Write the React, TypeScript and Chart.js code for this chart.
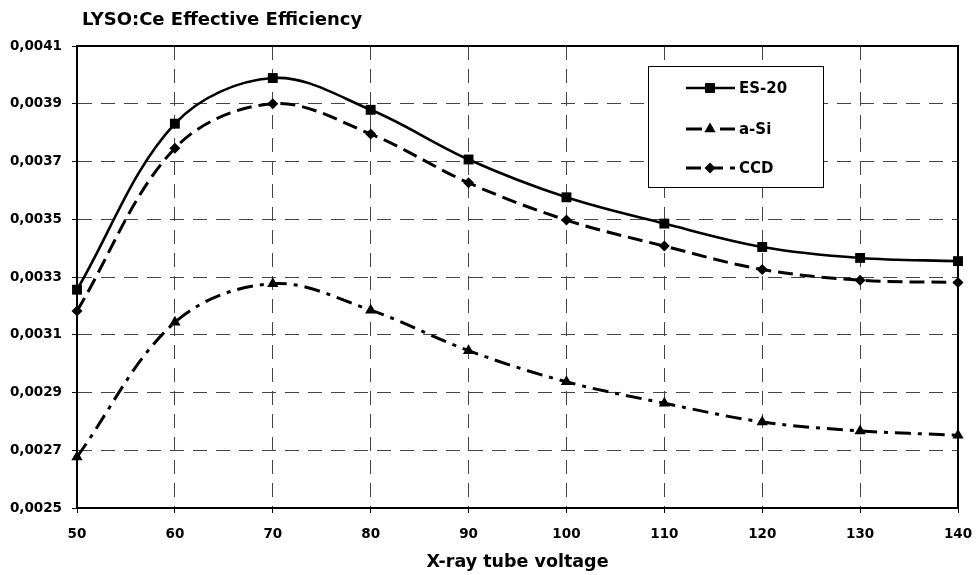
import React, { useEffect, useRef } from 'react';
import { Chart, registerables } from 'chart.js';

Chart.register(...registerables);

const voltages = ['50', '60', '70', '80', '90', '100', '110', '120', '130', '140'];
const es20 = [0.003256, 0.003831, 0.003989, 0.003879, 0.003707, 0.003576, 0.003485, 0.003404, 0.003366, 0.003355];
const aSi = [0.002677, 0.003143, 0.003277, 0.003185, 0.003045, 0.002937, 0.002863, 0.002798, 0.002767, 0.002752];
const ccd = [0.003182, 0.003746, 0.0039, 0.003795, 0.003626, 0.003497, 0.003407, 0.003326, 0.003289, 0.003281];
const seriesNames = ['ES-20', 'a-Si', 'CCD'];
const yMin = 0.0025;
const yMax = 0.0041;
const yStep = 0.0002;
const chartTitle = 'LYSO:Ce Effective Efficiency';
const xTitle = 'X-ray tube voltage';

const FONT = 'DejaVu Sans';

const overlayPlugin = {
  id: 'overlay',
  beforeDatasetsDraw(chart: any) {
    const { ctx, chartArea } = chart;
    ctx.save();
    ctx.strokeStyle = '#000';
    ctx.lineWidth = 2;
    ctx.setLineDash([]);
    ctx.strokeRect(chartArea.left, chartArea.top, chartArea.right - chartArea.left, chartArea.bottom - chartArea.top);
    ctx.restore();
  },
  afterDraw(chart: any) {
    const { ctx, chartArea } = chart;
    ctx.save();
    ctx.fillStyle = '#000';
    // chart title
    ctx.font = `bold 18px "${FONT}"`;
    ctx.textAlign = 'left';
    ctx.textBaseline = 'middle';
    ctx.fillText(chartTitle, 82, 20);
    // x axis title
    ctx.font = `bold 17.5px "${FONT}"`;
    ctx.textAlign = 'center';
    ctx.fillText(xTitle, (chartArea.left + chartArea.right) / 2, 562);

    // legend
    const bx = 648, by = 66, bw = 175, bh = 121;
    ctx.fillStyle = '#fff';
    ctx.fillRect(bx, by, bw, bh);
    ctx.strokeStyle = '#000';
    ctx.lineWidth = 1;
    ctx.strokeRect(bx + 0.5, by + 0.5, bw, bh);
    const rows = [88, 129, 168];
    chart.data.datasets.forEach((ds: any, i: number) => {
      const y = rows[i];
      ctx.save();
      ctx.strokeStyle = '#000';
      ctx.lineWidth = ds.borderWidth;
      ctx.setLineDash(ds.borderDash || []);
      ctx.beginPath();
      ctx.moveTo(686, y);
      ctx.lineTo(735, y);
      ctx.stroke();
      ctx.setLineDash([]);
      ctx.fillStyle = '#000';
      ctx.beginPath();
      const r = ds.pointRadius;
      if (ds.pointStyle === 'rect') {
        const s = r * Math.SQRT1_2;
        ctx.rect(710 - s, y - s, 2 * s, 2 * s);
      } else if (ds.pointStyle === 'triangle') {
        for (let k = 0; k < 3; k++) {
          const a = (k * 2 * Math.PI) / 3;
          const px = 710 + Math.sin(a) * r;
          const py = y - Math.cos(a) * r;
          if (k === 0) ctx.moveTo(px, py); else ctx.lineTo(px, py);
        }
        ctx.closePath();
      } else {
        ctx.moveTo(710 - r, y);
        ctx.lineTo(710, y - r);
        ctx.lineTo(710 + r, y);
        ctx.lineTo(710, y + r);
        ctx.closePath();
      }
      ctx.fill();
      ctx.restore();
      ctx.fillStyle = '#000';
      ctx.font = `bold 15px "${FONT}"`;
      ctx.textAlign = 'left';
      ctx.textBaseline = 'middle';
      ctx.fillText(ds.label, 739, y + 1);
    });
    ctx.restore();
  },
};

export default function App() {
  const ref = useRef<HTMLCanvasElement>(null);
  useEffect(() => {
    const common = {
      borderColor: '#000',
      backgroundColor: '#000',
      pointBackgroundColor: '#000',
      pointBorderColor: '#000',
      pointBorderWidth: 0,
      fill: false,
      tension: 0.35,
      clip: false as any,
    };
    const chart = new Chart(ref.current!, {
      type: 'line',
      data: {
        labels: voltages,
        datasets: [
          { ...common, label: seriesNames[0], data: es20, borderWidth: 2.6, borderDash: [], pointStyle: 'rect', pointRadius: 7 },
          { ...common, label: seriesNames[1], data: aSi, borderWidth: 3, borderDash: [16, 7, 4, 7], pointStyle: 'triangle', pointRadius: 6.5 },
          { ...common, label: seriesNames[2], data: ccd, borderWidth: 3, borderDash: [15, 7], pointStyle: 'rectRot', pointRadius: 5.5 },
        ] as any,
      },
      options: {
        responsive: false,
        animation: false,
        devicePixelRatio: 1,
        layout: { padding: { left: 0, right: 18, top: 46, bottom: 0 } },
        plugins: {
          legend: { display: false },
          title: { display: false },
          tooltip: { enabled: false },
        },
        scales: {
          x: {
            type: 'category',
            offset: false,
            grid: {
              color: '#444',
              lineWidth: 1,
              drawTicks: true,
              tickLength: 5,
              tickColor: '#000',
              tickWidth: 1,
              tickBorderDash: [],
            },
            border: { display: true, color: '#000', width: 2, dash: [14, 9] },
            ticks: {
              color: '#000',
              font: { family: FONT, weight: 'bold', size: 13.5 },
              padding: 13,
              maxRotation: 0,
              autoSkip: false,
            },
            afterFit(scale: any) {
              scale.height = 67;
              scale.paddingLeft = 0;
              scale.paddingRight = 0;
            },
          },
          y: {
            type: 'linear',
            min: yMin,
            max: yMax,
            grid: {
              color: '#444',
              lineWidth: 1,
              drawTicks: true,
              tickLength: 5,
              tickColor: '#000',
              tickWidth: 1,
              tickBorderDash: [],
            },
            border: { display: true, color: '#000', width: 2, dash: [14, 9] },
            ticks: {
              stepSize: yStep,
              color: '#000',
              font: { family: FONT, weight: 'bold', size: 13.5 },
              padding: 10,
              callback: (v: any) => Number(v).toFixed(4).replace('.', ','),
            },
            afterFit(scale: any) {
              scale.width = 77;
              scale.paddingTop = 0;
              scale.paddingBottom = 0;
            },
          },
        },
      } as any,
      plugins: [overlayPlugin],
    });
    return () => chart.destroy();
  }, []);
  return (
    <div style={{ position: 'absolute', left: 0, top: 0, width: 976, height: 575, background: '#fff' }}>
      <canvas ref={ref} width={976} height={575} style={{ display: 'block' }} />
    </div>
  );
}
